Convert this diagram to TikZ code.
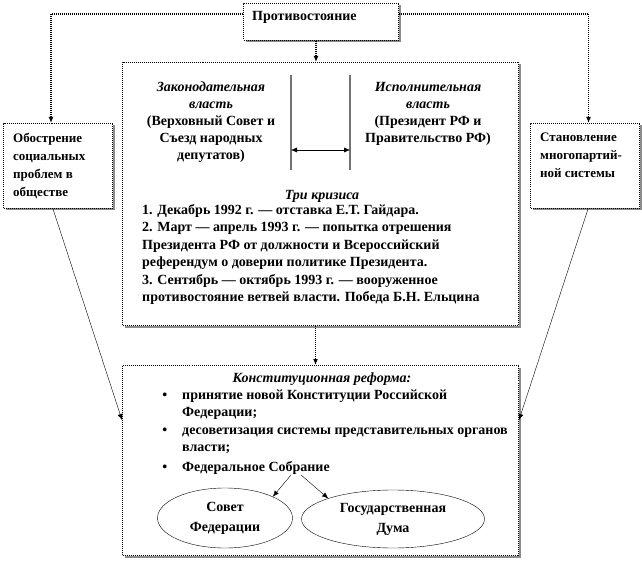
\documentclass[tikz,border=0pt]{standalone}
\usepackage{fontspec}
\setmainfont{Liberation Serif}
\usetikzlibrary{arrows.meta,positioning,calc,shadows,shapes.geometric}

\begin{document}
\begin{tikzpicture}[x=1pt,y=-1pt,
  box/.style={draw,line width=1pt,dash pattern=on 1pt off 1pt,fill=white,
              anchor=north west,inner sep=0pt,
              drop shadow={shadow xshift=2pt,shadow yshift=-2pt,fill=black!45,opacity=1}},
  txt/.style={font=\bfseries\fontsize{14}{17.5}\selectfont,inner sep=0pt},
  side/.style={txt,anchor=north west,align=left,font=\bfseries\fontsize{13}{18}\selectfont},
  ell/.style={draw,ellipse,thin,inner sep=0pt,align=center,
              font=\bfseries\fontsize{14}{20}\selectfont},
  link/.style={-{Latex[length=6pt,width=5pt]},line width=1.2pt,dash pattern=on 1pt off 1pt},
  ev/.style={-{Latex[length=6pt,width=5pt]},thin},
  sep/.style={draw=black!55,line width=1.3pt}]

  \useasboundingbox (0,0) rectangle (642,561);

  % boxes
  \node[box,minimum width=155pt,minimum height=37pt]  (opp)    at (243,3)   {};
  \node[box,minimum width=109pt,minimum height=85pt]  (soc)    at (3,123)   {};
  \node[box,minimum width=109pt,minimum height=85pt]  (party)  at (530,123) {};
  \node[box,minimum width=396pt,minimum height=263pt] (crisis) at (122,62)  {};
  \node[box,minimum width=396pt,minimum height=190pt] (reform) at (122,365) {};

  % texts of the small boxes
  \node[txt,anchor=north west] (oppT) at (252,11.5) {Противостояние};
  \node[side] (socT) at (13,132.5) {Обострение\\социальных\\проблем в\\обществе};
  \node[side] (partyT) at (540,132.5) {Становление\\многопартий-\\ной системы};

  % branches of power
  \draw[sep] (291,75) -- (291,170);
  \draw[sep] (350,75) -- (350,170);
  \coordinate (legR) at (291,150);
  \coordinate (exeL) at (350,150);
  \draw[{Latex[length=6pt,width=5pt]}-{Latex[length=6pt,width=5pt]},thin] (legR) -- (exeL);
  \node[txt,anchor=north,align=center,font=\bfseries\fontsize{14}{17}\selectfont]
    (legT) at (211,82)
    {\textit{Законодательная}\\\textit{власть}\\(Верховный Совет и\\Съезд народных\\депутатов)};
  \node[txt,anchor=north,align=center,font=\bfseries\fontsize{14}{17}\selectfont]
    (exeT) at (428,82)
    {\textit{Исполнительная}\\\textit{власть}\\(Президент РФ и\\Правительство РФ)};

  % three crises
  \node[txt,anchor=north] (crisT) at (322,190.5) {\textit{Три кризиса}};
  \node[txt,anchor=north west,align=left] (listT) at (142,204)
    {1. Декабрь 1992 г. — отставка Е.Т. Гайдара.\\
     2. Март — апрель 1993 г. — попытка отрешения\\
     Президента РФ от должности и Всероссийский\\
     референдум о доверии политике Президента.\\
     3. Сентябрь — октябрь 1993 г. — вооруженное\\
     противостояние ветвей власти. Победа Б.Н. Ельцина};

  % constitutional reform
  \node[txt,anchor=north] (refT) at (322,372.5) {\textit{Конституционная реформа:}};
  \node[txt,anchor=north west,align=left] (itemsT) at (182,389.5)
    {\llap{\textbullet\hspace{15pt}}принятие новой Конституции Российской\\
     Федерации;\\
     \llap{\textbullet\hspace{15pt}}десоветизация системы представительных органов\\
     власти;\\[2.5pt]
     \llap{\textbullet\hspace{15pt}}Федеральное Собрание};
  \coordinate (fork) at (296,475);
  \node[ell,minimum width=135pt,minimum height=60pt] (sovfed) at (225,518) {Совет\\Федерации};
  \node[ell,minimum width=183pt,minimum height=58pt] (duma)   at (393,519) {Государственная\\Дума};
  \draw[ev] ($(fork)+(-5,0)$) -- (sovfed.north east);
  \draw[ev] ($(fork)+(5,0)$) -- (duma.north west);

  % connectors
  \draw[link] ($(opp.north west)+(0,11)$) -| ($(soc.north)+(-7,0)$);
  \draw[link] ($(opp.north east)+(0,11)$) -| ($(party.north)+(3.5,0)$);
  \draw[link] ($(opp.south)+(-5,0)$) coordinate (a) -- (a |- crisis.north);
  \draw[link] ($(crisis.south)+(-5,0)$) coordinate (b) -- (b |- reform.north);
  \draw[ev] ($(soc.south)+(-5,0)$) -- ($(reform.north west)+(0,55)$);
  \draw[ev] ($(party.south)+(3,0)$) -- ($(reform.north east)+(0,55)$);
\end{tikzpicture}
\end{document}
